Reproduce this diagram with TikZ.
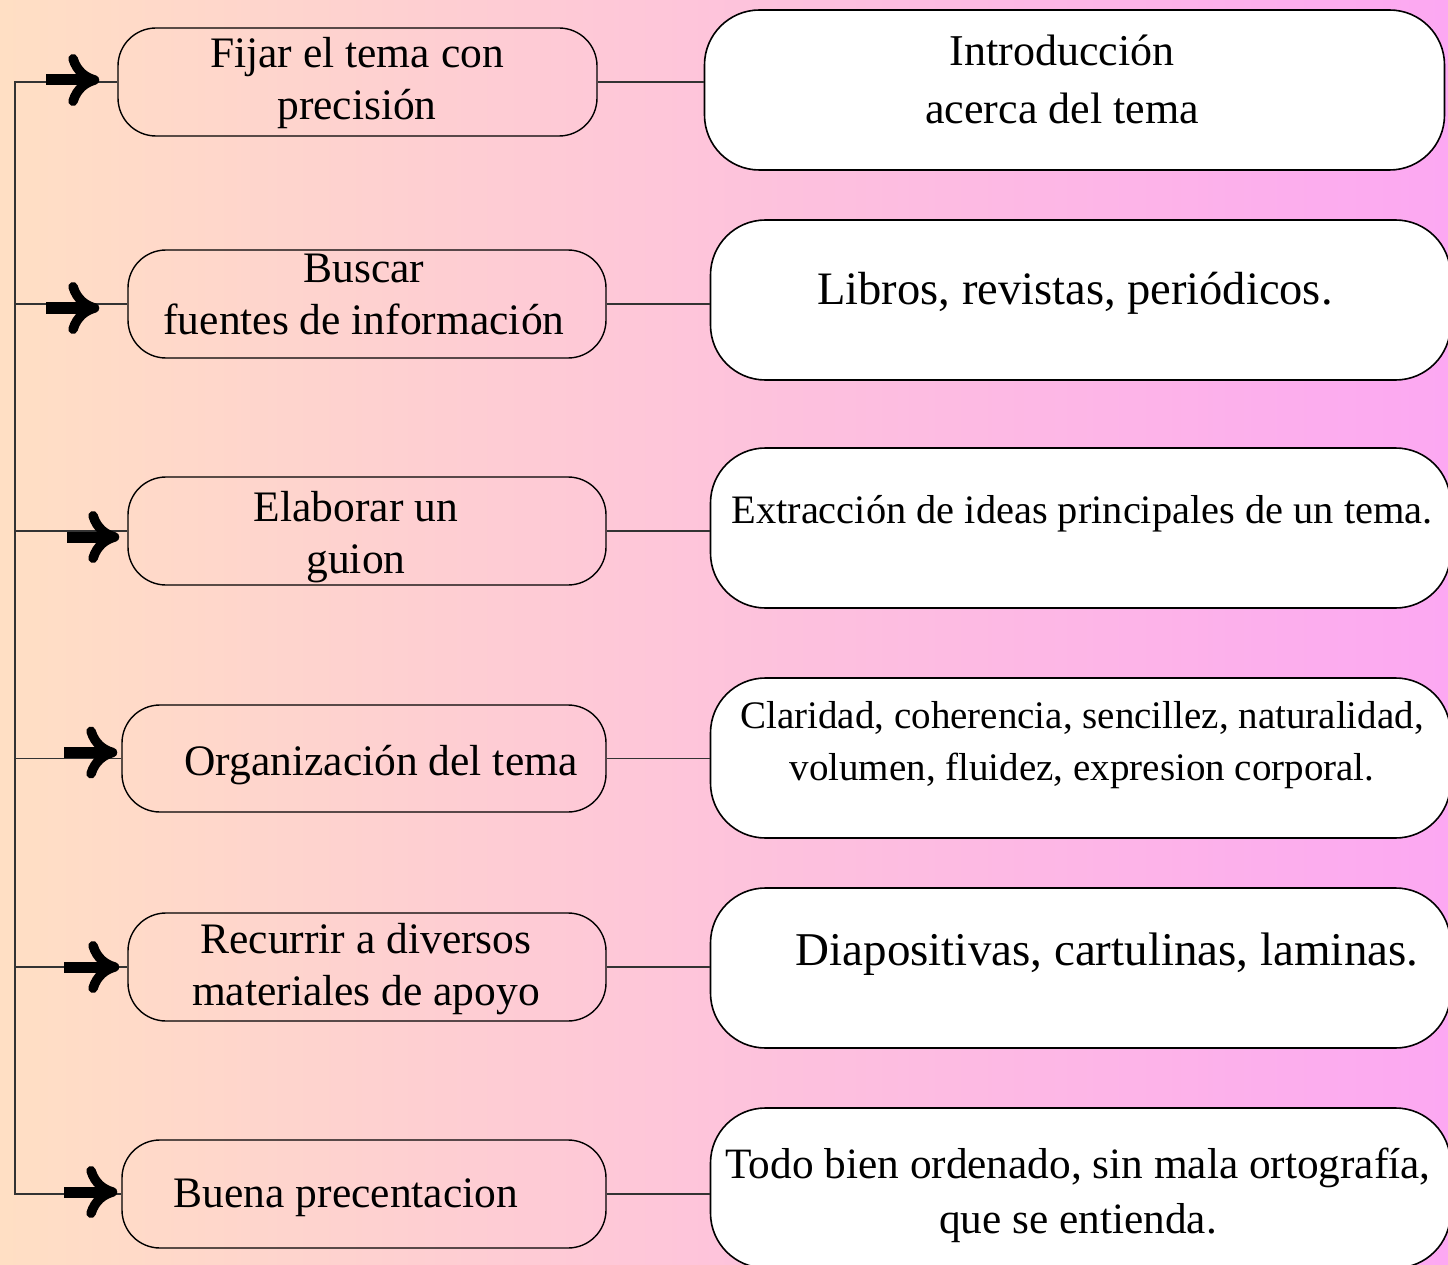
\documentclass[tikz,border=0pt]{standalone}
\usepackage{fontspec}
\setmainfont{Liberation Serif}
\usetikzlibrary{arrows.meta}

\definecolor{peach}{RGB}{255,223,196}
\definecolor{rosemid}{RGB}{255,195,218}
\definecolor{orchid}{RGB}{252,168,242}

\tikzset{
  leftbox/.style={draw=black, line width=1.4pt, rounded corners=38pt, inner sep=0pt},
  ltext/.style={align=center, inner sep=0pt, font=\fontsize{43.5}{52}\selectfont},
  rightbox/.style={draw=black, fill=white, line width=1.6pt, rounded corners=55pt, inner sep=0pt, minimum width=740pt, minimum height=160pt},
  rtext/.style={align=center, inner sep=0pt},
  link/.style={draw=black!80, line width=1.5pt},
  bigarrow/.style={line width=11pt, -{Computer Modern Rightarrow[length=31pt,width=52pt,line width=9.5pt]}}
}

\begin{document}
\begin{tikzpicture}[x=1pt,y=-1pt]
\useasboundingbox (0,0) rectangle (1448,1265);
% Background
\shade[left color=peach, middle color=rosemid, right color=orchid] (0,0) rectangle (1448,1265);

% Steps (left column)
\node[leftbox, minimum width=479pt, minimum height=108pt] (fijar) at (357.5,82) {};
\node[leftbox, minimum width=478pt, minimum height=108pt] (buscar) at (367,304) {};
\node[leftbox, minimum width=478pt, minimum height=108pt] (guion) at (367,531) {};
\node[leftbox, minimum width=484pt, minimum height=107pt] (organiza) at (364,758.5) {};
\node[leftbox, minimum width=478pt, minimum height=108pt] (apoyo) at (367,967) {};
\node[leftbox, minimum width=484pt, minimum height=108pt] (presenta) at (364,1194) {};

% Step texts
\node[ltext] (fijartxt) at (357,83) {Fijar el tema con\\precisión};
\node[ltext] (buscartxt) at (364,294) {Buscar\\fuentes de información};
\node[ltext] (guiontxt) at (356,537.5) {Elaborar un\\guion};
\node[ltext] (organizatxt) at (381,765) {Organización del tema};
\node[ltext] (apoyotxt) at (366,969) {Recurrir a diversos\\materiales de apoyo};
\node[ltext] (presentatxt) at (346,1198) {Buena precentacion};

% Details (right column)
\node[rightbox] (intro) at (1074.5,90) {};
\node[rightbox] (libros) at (1080.5,300) {};
\node[rightbox] (ideas) at (1080.5,528) {};
\node[rightbox] (claridad) at (1080.5,758) {};
\node[rightbox] (diapo) at (1080.5,968) {};
\node[rightbox] (orden) at (1080.5,1188) {};

% Detail texts
\node[rtext, font=\fontsize{44}{58}\selectfont] (introtxt) at (1062,79) {Introducción\\acerca del tema};
\node[rtext, font=\fontsize{46.5}{56}\selectfont] (librostxt) at (1075,293) {Libros, revistas, periódicos.};
\node[rtext, font=\fontsize{40.4}{50}\selectfont] (ideastxt) at (1082,514) {Extracción de ideas principales de un tema.};
\node[rtext, font=\fontsize{39}{52}\selectfont] (claridadtxt) at (1082,745) {Claridad, coherencia, sencillez, naturalidad,\\volumen, fluidez, expresion corporal.};
\node[rtext, font=\fontsize{47}{56}\selectfont] (diapotxt) at (1107,954) {Diapositivas, cartulinas, laminas.};
\node[rtext, font=\fontsize{43.3}{55}\selectfont] (ordentxt) at (1078,1195) {Todo bien ordenado, sin mala ortografía,\\que se entienda.};

% Spine
\coordinate (spine) at (15,0);
\draw[link] (fijar.west) -| (spine |- presenta.west) -- (presenta.west);
\draw[link] (spine |- buscar.west) -- (buscar.west);
\draw[link] (spine |- guion.west) -- (guion.west);
\draw[link] (spine |- organiza.west) -- (organiza.west);
\draw[link] (spine |- apoyo.west) -- (apoyo.west);

% Arrows
\draw[bigarrow] ([xshift=-71pt,yshift=2pt]fijar.west) -- ([xshift=-18pt,yshift=2pt]fijar.west);
\draw[bigarrow] ([xshift=-81pt,yshift=-4pt]buscar.west) -- ([xshift=-28pt,yshift=-4pt]buscar.west);
\draw[bigarrow] ([xshift=-60pt,yshift=-6pt]guion.west) -- ([xshift=-8pt,yshift=-6pt]guion.west);
\draw[bigarrow] ([xshift=-57pt,yshift=6pt]organiza.west) -- ([xshift=-4pt,yshift=6pt]organiza.west);
\draw[bigarrow] ([xshift=-63pt]apoyo.west) -- ([xshift=-8pt]apoyo.west);
\draw[bigarrow] ([xshift=-57pt,yshift=2pt]presenta.west) -- ([xshift=-4pt,yshift=2pt]presenta.west);

% Links
\draw[link] (fijar.east) -- (fijar.east -| intro.west);
\draw[link] (buscar.east) -- (buscar.east -| libros.west);
\draw[link] (guion.east) -- (guion.east -| ideas.west);
\draw[link] (organiza.east) -- (organiza.east -| claridad.west);
\draw[link] (apoyo.east) -- (apoyo.east -| diapo.west);
\draw[link] (presenta.east) -- (presenta.east -| orden.west);
\end{tikzpicture}
\end{document}
